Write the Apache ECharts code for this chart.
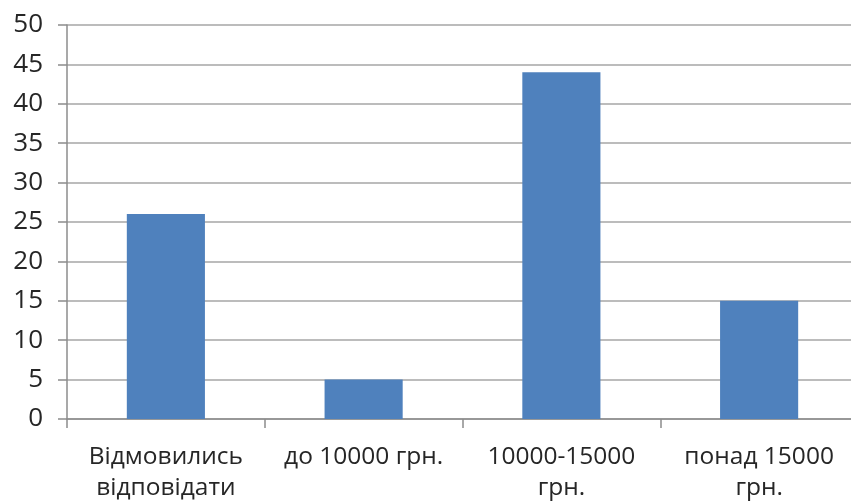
<!DOCTYPE html>
<html>
<head>
<meta charset="utf-8">
<script src="https://cdn.jsdelivr.net/npm/echarts@6/dist/echarts.min.js"></script>
<style>
  html, body { margin: 0; padding: 0; background: #fff; }
  #chart { width: 851px; height: 504px; }
</style>
</head>
<body>
<div id="chart"></div>
<script>
// Income groups of respondents and their counts
const categories = ['Відмовились\nвідповідати', 'до 10000 грн.', '10000-15000\nгрн.', 'понад 15000\nгрн.'];
const values = [26, 5, 44, 15];
const yTicks = { min: 0, max: 50, step: 5 };

const textColor = '#262626';
const font = 'Open Sans';

const chart = echarts.init(document.getElementById('chart'), null, { renderer: 'canvas' });
chart.setOption({
  animation: false,
  backgroundColor: '#ffffff',
  grid: { left: 67, top: 25, bottom: 85, right: -7, containLabel: false, outerBoundsMode: 'none' },
  xAxis: {
    type: 'category',
    data: categories,
    boundaryGap: true,
    axisLine: { show: true, lineStyle: { color: '#8c8c8c', width: 1.5 } },
    axisTick: { show: true, alignWithLabel: false, length: 9, lineStyle: { color: '#8c8c8c', width: 1.5 } },
    axisLabel: {
      interval: 0,
      margin: 23,
      color: textColor,
      fontFamily: font,
      fontSize: 24.5,
      lineHeight: 31
    },
    splitLine: { show: false }
  },
  yAxis: {
    type: 'value',
    min: yTicks.min,
    max: yTicks.max,
    interval: yTicks.step,
    axisLine: { show: true, lineStyle: { color: '#8c8c8c', width: 1.5 } },
    axisTick: { show: true, length: 9, lineStyle: { color: '#8c8c8c', width: 1.5 } },
    axisLabel: {
      margin: 24,
      color: textColor,
      fontFamily: font,
      fontSize: 26
    },
    splitLine: { show: true, lineStyle: { color: '#a6a6a6', width: 1.5 } }
  },
  series: [{
    type: 'bar',
    data: values,
    barWidth: '39.5%',
    itemStyle: { color: '#4f81bd' }
  }]
});
</script>
</body>
</html>
